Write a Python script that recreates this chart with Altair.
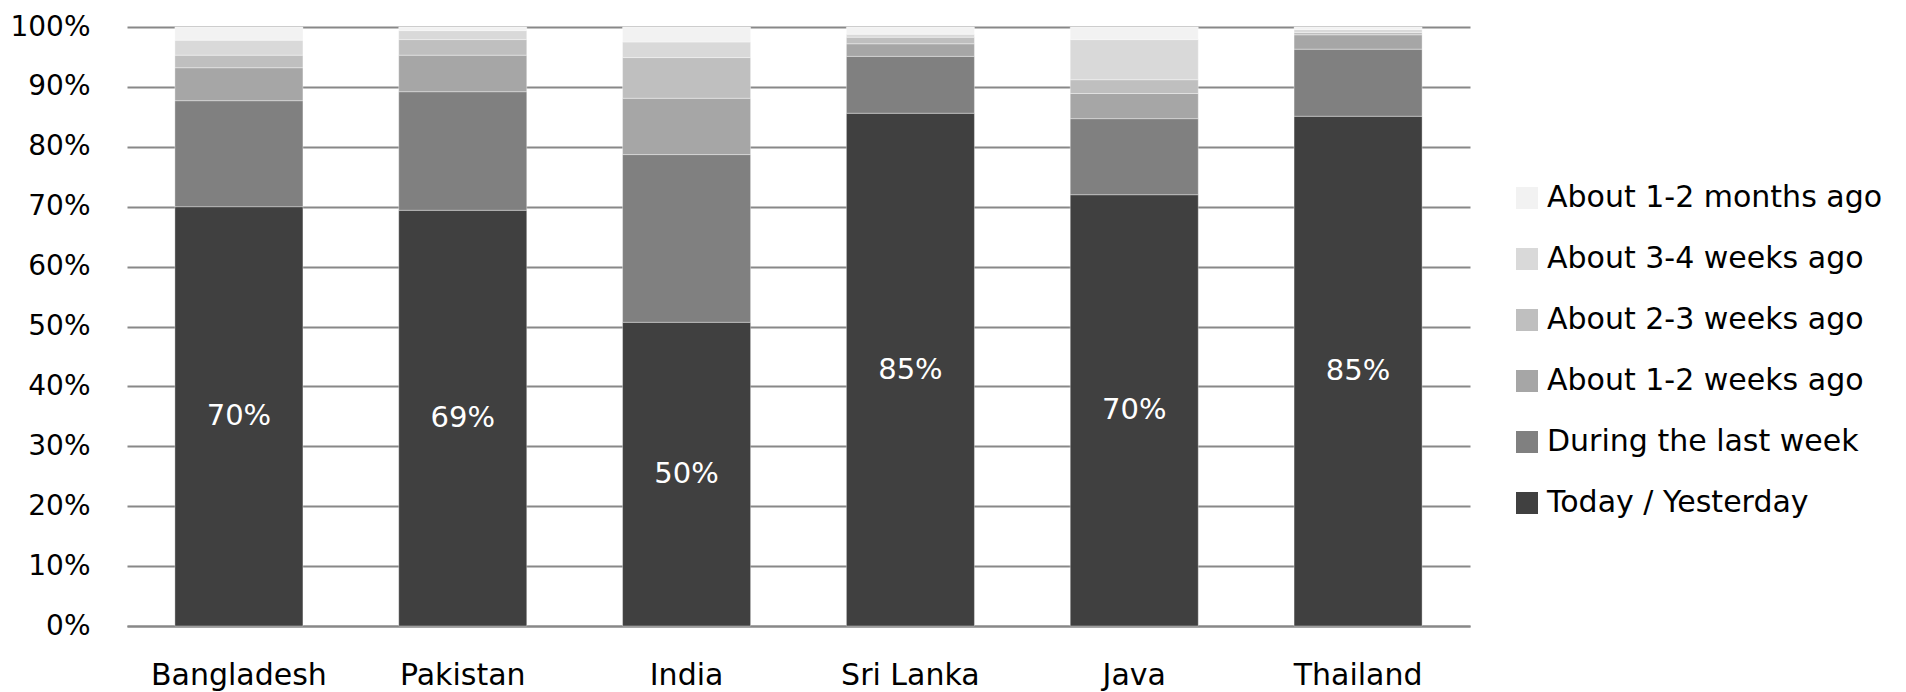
import altair as alt
import pandas as pd

countries = ["Bangladesh", "Pakistan", "India", "Sri Lanka", "Java", "Thailand"]
categories = [
    "About 1-2 months ago",
    "About 3-4 weeks ago",
    "About 2-3 weeks ago",
    "About 1-2 weeks ago",
    "During the last week",
    "Today / Yesterday",
]
colors = ["#f2f2f2", "#d9d9d9", "#bfbfbf", "#a6a6a6", "#808080", "#404040"]

today = [70.0, 69.4, 50.7, 85.6, 72.0, 85.1]
last_week = [17.7, 19.8, 28.0, 9.5, 12.7, 11.2]
weeks_1_2 = [5.5, 6.1, 9.4, 2.1, 4.2, 2.4]
weeks_2_3 = [2.1, 2.6, 6.8, 1.1, 2.3, 0.4]
weeks_3_4 = [2.5, 1.5, 2.6, 0.5, 6.7, 0.5]
months_1_2 = [2.2, 0.6, 2.5, 1.2, 2.1, 0.4]
label_text = ["70%", "69%", "50%", "85%", "70%", "85%"]

series = {
    "Today / Yesterday": today,
    "During the last week": last_week,
    "About 1-2 weeks ago": weeks_1_2,
    "About 2-3 weeks ago": weeks_2_3,
    "About 3-4 weeks ago": weeks_3_4,
    "About 1-2 months ago": months_1_2,
}

rows = []
for k, (cat, vals) in enumerate(series.items()):
    for c, v in zip(countries, vals):
        rows.append({"country": c, "cat": cat, "value": v / 100.0, "ord": k})
df = pd.DataFrame(rows)

lab_df = pd.DataFrame({
    "country": countries,
    "mid": [t / 200.0 for t in today],
    "text": label_text,
})

FONT = "DejaVu Sans"

xenc = alt.X(
    "country:N",
    sort=countries,
    title=None,
    scale=alt.Scale(paddingInner=0.428, paddingOuter=0.214),
    axis=alt.Axis(
        labelAngle=0, labelFont=FONT, labelFontSize=30, labelColor="#000000",
        ticks=False, tickSize=0, labelPadding=58, labelBaseline="alphabetic",
        domainColor="#888888", domainWidth=1.8, grid=False,
    ),
)

bars = alt.Chart(df).mark_bar(
    stroke="#ffffff", strokeWidth=1, strokeOpacity=0.35
).encode(
    x=xenc,
    y=alt.Y(
        "value:Q",
        stack="zero",
        title=None,
        scale=alt.Scale(domain=[0, 1], nice=False),
        axis=alt.Axis(
            format=".0%", values=[i / 10 for i in range(11)],
            labelFont=FONT, labelFontSize=28, labelColor="#000000",
            ticks=False, tickSize=0, labelPadding=37, domain=False,
            grid=True, gridColor="#888888", gridWidth=1.8,
        ),
    ),
    color=alt.Color(
        "cat:N",
        scale=alt.Scale(domain=categories, range=colors),
        legend=alt.Legend(
            title=None, orient="none", legendX=1385, legendY=156,
            symbolType="square", symbolSize=484, symbolStrokeWidth=0,
            labelFont=FONT, labelFontSize=30, labelColor="#000000",
            labelOffset=5, rowPadding=31, padding=0, symbolOpacity=1,
            labelLimit=500,
        ),
    ),
    order=alt.Order("ord:Q", sort="ascending"),
)

labels = alt.Chart(lab_df).mark_text(
    color="#ffffff", font=FONT, fontSize=29, baseline="middle", align="center"
).encode(
    x=alt.X("country:N", sort=countries),
    y=alt.Y("mid:Q"),
    text="text:N",
)

chart = (bars + labels).properties(
    width=1343,
    height=599,
    autosize=alt.AutoSizeParams(type="none"),
    padding={"left": 119, "top": 19, "right": 420, "bottom": 70},
).configure_view(stroke=None)

chart.save("out.html", embed_options={"renderer": "svg", "actions": False})
